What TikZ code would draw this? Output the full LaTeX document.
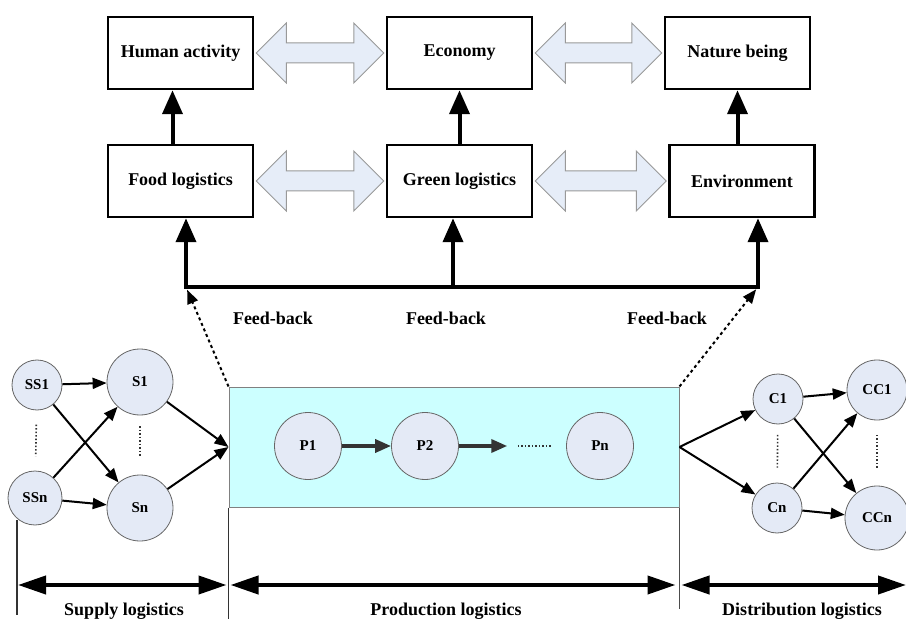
\documentclass[tikz,border=0pt]{standalone}
\usepackage{fontspec}
\setmainfont{Liberation Serif}
\usetikzlibrary{arrows.meta,calc}
\definecolor{circfill}{HTML}{E4EAF6}
\definecolor{arrfill}{HTML}{E6EDF8}
\definecolor{prodfill}{HTML}{CCFFFF}

\newcommand\dblarrow[2]{%
  \draw[dblarr] ([xshift=2]#1.east) -- ++(30,-30) -- ++(0,20)
    -- ([xshift=-32,yshift=10]#2.west) -- ++(0,-20) -- ([xshift=-2]#2.west)
    -- ++(-30,30) -- ++(0,-20) -- ([xshift=32,yshift=-10]#1.east) -- ++(0,20) -- cycle;}

\begin{document}
\begin{tikzpicture}[x=1pt,y=-1pt]
    \tikzstyle{box}=[draw, line width=2.5pt, minimum width=145pt, minimum height=72pt, font=\fontsize{18}{20}\selectfont\bfseries]
    \tikzstyle{circ}=[circle, draw=black!60, line width=0.8pt, fill=circfill, inner sep=0pt, font=\fontsize{15}{17}\selectfont\bfseries]
    \tikzstyle{dblarr}=[draw=black!40, fill=arrfill, line width=1pt]
    \tikzstyle{up}=[line width=4pt, -{Triangle[length=24pt,width=20pt]}]
    \tikzstyle{flow}=[line width=2pt, -{Triangle[length=14pt,width=11pt]}]
    \tikzstyle{pflow}=[line width=3.5pt, draw=black!80, -{Triangle[length=16pt,width=13pt]}]
    \tikzstyle{fb}=[line width=2pt, dash pattern=on 3pt off 3pt, -{Triangle[length=14pt,width=11pt]}, shorten >=3pt]
    \tikzstyle{dots}=[line width=1.6pt, dash pattern=on 1.5pt off 2pt, draw=black!80]
    \tikzstyle{dim}=[line width=4pt, {Triangle[length=28pt,width=18pt]}-{Triangle[length=28pt,width=18pt]}]
    \tikzstyle{lbl}=[font=\fontsize{18}{20}\selectfont\bfseries]

    \useasboundingbox (0,0) rectangle (906,623);

    \node[box] (ha) at (180.5,53) {Human activity};
    \node[box] (ec) at (459.5,53) {Economy};
    \node[box] (nb) at (737.5,53) {Nature being};
    \node[box] (fl) at (180.5,181) {Food logistics};
    \node[box] (gl) at (459.5,181) {Green logistics};
    \node[box] (en) at (742,181) {Environment};

    \dblarrow{ha}{ec}
    \dblarrow{ec}{nb}
    \dblarrow{fl}{gl}
    \dblarrow{gl}{en}

    \draw[up] ([xshift=-8]fl.north) -- ([xshift=-8]ha.south);
    \draw[up] (gl.north) -- (ec.south);
    \draw[up] (en.north -| nb.south) -- (nb.south);

    \coordinate (fb1) at (186,287);
    \coordinate (fb2) at (453,287);
    \coordinate (fb3) at (758,287);
    \draw[line width=4pt] ([xshift=-2]fb1) -- ([xshift=2]fb3);
    \draw[up] (fb1) -- (fb1 |- fl.south);
    \draw[up] (fb2) -- (fb2 |- gl.south);
    \draw[up] (fb3) -- (fb3 |- en.south);

    \node[lbl] (f1) at (273,318) {Feed-back};
    \node[lbl] (f2) at (446,318) {Feed-back};
    \node[lbl] (f3) at (667,318) {Feed-back};

    \node[draw=black!50, line width=1pt, fill=prodfill, minimum width=450pt, minimum height=120pt] (pr) at (454,447) {};
    \draw[fb] (pr.north west) -- (fb1);
    \draw[fb] (pr.north east) -- (fb3);

    \node[circ, minimum size=67pt] (p1) at (308,446) {P1};
    \node[circ, minimum size=67pt] (p2) at (425,446) {P2};
    \node[circ, minimum size=67pt] (pn) at (600,446) {Pn};
    \draw[pflow] (p1) -- (p2);
    \draw[pflow] (p2) -- ($(p2)!0.47!(pn)$);
    \draw[dots] ($(p2)!0.53!(pn)$) -- ($(p2)!0.73!(pn)$);

    \node[circ, minimum size=50pt] (ss1) at (37,385) {SS1};
    \node[circ, minimum size=54pt] (ssn) at (35,498) {SSn};
    \node[circ, minimum size=66pt] (s1) at (140,382) {S1};
    \node[circ, minimum size=66pt] (sn) at (140,508) {Sn};
    \draw[dots] ($(ss1)!0.35!(ssn)$) -- ($(ss1)!0.63!(ssn)$);
    \draw[dots] ($(s1)!0.35!(sn)$) -- ($(s1)!0.6!(sn)$);
    \draw[flow] (ss1) -- (s1);
    \draw[flow] (ss1) -- (sn);
    \draw[flow] (ssn) -- (s1);
    \draw[flow] (ssn) -- (sn);
    \draw[flow] (s1) -- (pr.west);
    \draw[flow] (sn) -- (pr.west);

    \node[circ, minimum size=50pt] (c1) at (778,399) {C1};
    \node[circ, minimum size=50pt] (cn) at (777,508) {Cn};
    \node[circ, minimum size=60pt] (cc1) at (877,390) {CC1};
    \node[circ, minimum size=64pt] (ccn) at (877,518) {CCn};
    \draw[dots] ($(c1)!0.33!(cn)$) -- ($(c1)!0.63!(cn)$);
    \draw[dots] ($(cc1)!0.35!(ccn)$) -- ($(cc1)!0.61!(ccn)$);
    \draw[flow] (pr.east) -- (c1);
    \draw[flow] (pr.east) -- (cn);
    \draw[flow] (c1) -- (cc1);
    \draw[flow] (c1) -- (ccn);
    \draw[flow] (cn) -- (cc1);
    \draw[flow] (cn) -- (ccn);

    \coordinate (d0) at (17,585);
    \coordinate (d1) at (pr.south west |- d0);
    \coordinate (d2) at (pr.south east |- d0);
    \coordinate (d3) at (906,585);
    \draw[line width=1.8pt, black!80] (17,520) -- (17,615);
    \draw[line width=1.8pt, black!80] (pr.south west) -- ++(0,111);
    \draw[line width=1.8pt, black!70] (pr.south east) -- ++(0,101);
    \draw[dim] ([xshift=1]d0) -- ([xshift=-2]d1);
    \draw[dim] ([xshift=2]d1) -- ([xshift=-4]d2);
    \draw[dim] ([xshift=2]d2) -- (d3);

    \node[lbl] (sl) at (124,611) {Supply logistics};
    \node[lbl] (pl) at (446,611) {Production logistics};
    \node[lbl] (dl) at (802,611) {Distribution logistics};
\end{tikzpicture}
\end{document}
